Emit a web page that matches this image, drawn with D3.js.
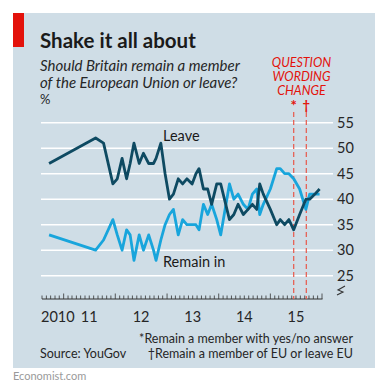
<!DOCTYPE html>
<html><head><meta charset="utf-8">
<script src="https://cdn.jsdelivr.net/npm/d3@7/dist/d3.min.js"></script>
<style>
html,body{margin:0;padding:0;background:#fff;}
svg{display:block;font-family:Lato,"Open Sans",sans-serif;}
</style></head>
<body><svg id="c" width="375" height="383"></svg>
<script>
const dates = ["2010-09-20","2011-08-15","2011-10-10","2011-12-15","2012-01-15","2012-02-18","2012-03-21","2012-04-15","2012-05-12","2012-06-18","2012-07-18","2012-08-24","2012-09-27","2012-10-15","2012-11-18","2012-12-18","2013-01-18","2013-02-15","2013-03-21","2013-04-21","2013-05-21","2013-06-27","2013-07-24","2013-08-15","2013-09-15","2013-10-15","2013-11-12","2013-12-18","2014-01-15","2014-03-18","2014-04-18","2014-05-18","2014-06-24","2014-07-27","2014-08-27","2014-09-27","2014-10-18","2014-11-12","2015-01-01","2015-02-15","2015-03-12","2015-04-12","2015-05-12","2015-06-15","2015-07-27","2015-09-09","2015-10-06","2015-11-12","2015-12-15"];
const leave  = [47,52,51,43,44,48,44,47,51,47,49,47,47,48,51,45,40,41,44,43,44,43,45,46,42,42,39,43,43,36,37,39,37,38,39,38,43,41,38,35,36,35,36,34,37,40,40,41,42];
const remain = [33,30,32,36,33,30,34,33,28,33,30,33,30,28,32,35,37,38,33,36,35,35,35,34,39,37,39,36,33,43,40,41,39,38,41,42,37,39,42,46,46,45,45,44,42,38,41,41,41];
const yTicks = [25,30,35,40,45,50,55];
const yearLabels = ["2010","11","12","13","14","15"];
const wordingChanges = [{date:"2015-06-15", mark:"*"},{date:"2015-09-12", mark:"†"}];

const svg = d3.select("#c");
const parse = d3.timeParse("%Y-%m-%d");
const red = "#e3120b";

// panel
svg.append("rect").attr("x",13).attr("y",13).attr("width",362).attr("height",355).attr("fill","#cfdde6");
svg.append("rect").attr("x",13).attr("y",13).attr("width",11).attr("height",34).attr("fill",red);

svg.append("text").attr("x",40).attr("y",48).attr("font-size",20.5).attr("font-weight","bold").attr("fill","#1a1a1a").text("Shake it all about");
svg.append("text").attr("x",40).attr("y",71).attr("font-size",15).attr("font-style","italic").attr("fill","#262626").text("Should Britain remain a member");
svg.append("text").attr("x",40).attr("y",88).attr("font-size",15).attr("font-style","italic").attr("fill","#262626").text("of the European Union or leave?");
svg.append("text").attr("x",40).attr("y",104).attr("font-size",13).attr("fill","#262626").text("%");

const x = d3.scaleTime().domain([parse("2010-08-01"), parse("2016-01-01")]).range([42,322]);
const y = d3.scaleLinear().domain([25,55]).range([275.7,122.7]);

// gridlines
svg.append("g").selectAll("line").data(yTicks).join("line")
  .attr("x1",41).attr("x2",333).attr("y1",d=>y(d)).attr("y2",d=>y(d))
  .attr("stroke","#fff").attr("stroke-width",1.6);
svg.append("g").selectAll("text").data(yTicks).join("text")
  .attr("x",337).attr("y",d=>y(d)+5).attr("font-size",14.5).attr("fill","#262626").text(d=>d);

// broken axis symbol
svg.append("path").attr("d","M337,295 L343,292 L338,290 L345,286").attr("fill","none").attr("stroke","#333").attr("stroke-width",1.1);

// x axis
const axisY = 299;
const months = d3.timeMonth.range(x.domain()[0], d3.timeMonth.offset(x.domain()[1],1));
const gx = svg.append("g");
gx.append("line").attr("x1",42).attr("x2",322.5).attr("y1",axisY).attr("y2",axisY).attr("stroke","#333").attr("stroke-width",1);
gx.selectAll("line.t").data(months).join("line").attr("class","t")
  .attr("x1",d=>x(d)).attr("x2",d=>x(d)).attr("y1",axisY)
  .attr("y2",d=>axisY-((d.getMonth()===0)?5.5:3.5)).attr("stroke","#333").attr("stroke-width",0.8);
const years = [2010,2011,2012,2013,2014,2015];
gx.selectAll("text").data(years).join("text")
  .attr("x",(d,i)=> i===0 ? 41 : x(new Date(d,6,1)))
  .attr("text-anchor",(d,i)=> i===0 ? "start" : "middle")
  .attr("y",322).attr("font-size",14.5).attr("fill","#262626").text((d,i)=>yearLabels[i]);

// wording change
wordingChanges.forEach(w=>{
  const xx = x(parse(w.date));
  svg.append("line").attr("x1",xx).attr("x2",xx).attr("y1",112).attr("y2",axisY)
    .attr("stroke","#e8574a").attr("stroke-width",1.2).attr("stroke-dasharray","5,3");
  svg.append("text").attr("x",xx).attr("y",w.mark==="*"?111:110).attr("text-anchor","middle")
    .attr("font-size",w.mark==="*"?15:13).attr("font-weight","bold").attr("fill",red).text(w.mark);
});
["QUESTION","WORDING","CHANGE"].forEach((t,i)=>{
  svg.append("text").attr("x",301.5).attr("y",66.5+i*14).attr("text-anchor","middle")
    .attr("font-size",12.5).attr("font-style","italic").attr("fill",red).text(t);
});

// lines
const pts = dates.map((d,i)=>({date:parse(d), leave:leave[i], remain:remain[i]}));
const lineL = d3.line().x(d=>x(d.date)).y(d=>y(d.leave));
const lineR = d3.line().x(d=>x(d.date)).y(d=>y(d.remain));
svg.append("path").datum(pts).attr("d",lineR).attr("fill","none").attr("stroke","#18a5dc").attr("stroke-width",2.8).attr("stroke-linejoin","round");
svg.append("path").datum(pts).attr("d",lineL).attr("fill","none").attr("stroke","#0e4a62").attr("stroke-width",2.8).attr("stroke-linejoin","round");

svg.append("text").attr("x",163).attr("y",141).attr("font-size",14.5).attr("fill","#1a1a1a").text("Leave");
svg.append("text").attr("x",163).attr("y",267).attr("font-size",14.5).attr("fill","#1a1a1a").text("Remain in");

// footer
svg.append("text").attr("x",353).attr("y",343).attr("text-anchor","end").attr("font-size",12.5).attr("fill","#262626").text("*Remain a member with yes/no answer");
svg.append("text").attr("x",353).attr("y",358).attr("text-anchor","end").attr("font-size",12.5).attr("fill","#262626").text("†Remain a member of EU or leave EU");
svg.append("text").attr("x",40).attr("y",358).attr("font-size",12.5).attr("fill","#262626").text("Source: YouGov");
svg.append("text").attr("x",13).attr("y",380).attr("font-size",11).attr("fill","#9a9a9a").text("Economist.com");
</script></body></html>
